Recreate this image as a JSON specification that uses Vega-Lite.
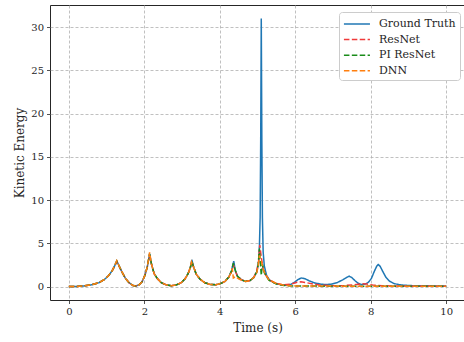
{
  "$schema": "https://vega.github.io/schema/vega-lite/v6.json",
  "width": 415,
  "height": 295,
  "autosize": {"type": "none"},
  "padding": {"left": 50, "top": 5, "right": 0, "bottom": 42},
  "datasets": {
    "gt": [
      {"t":0,"k":0},{"t":0.2,"k":0.02},{"t":0.4,"k":0.08},{"t":0.6,"k":0.2},{"t":0.8,"k":0.45},{"t":0.95,"k":0.85},{"t":1.05,"k":1.25},{"t":1.15,"k":1.85},{"t":1.22,"k":2.45},{"t":1.27,"k":2.95},{"t":1.32,"k":2.5},{"t":1.4,"k":1.75},{"t":1.5,"k":0.95},{"t":1.6,"k":0.42},{"t":1.7,"k":0.13},{"t":1.78,"k":0.08},{"t":1.86,"k":0.2},{"t":1.94,"k":0.55},{"t":2.02,"k":1.35},{"t":2.08,"k":2.3},{"t":2.14,"k":3.8},{"t":2.19,"k":2.6},{"t":2.26,"k":1.5},{"t":2.35,"k":0.9},{"t":2.45,"k":0.45},{"t":2.58,"k":0.2},{"t":2.72,"k":0.1},{"t":2.85,"k":0.2},{"t":2.98,"k":0.45},{"t":3.08,"k":0.9},{"t":3.16,"k":1.5},{"t":3.22,"k":2.2},{"t":3.26,"k":3.1},{"t":3.31,"k":2.2},{"t":3.38,"k":1.4},{"t":3.48,"k":0.85},{"t":3.6,"k":0.45},{"t":3.75,"k":0.25},{"t":3.9,"k":0.22},{"t":4.02,"k":0.35},{"t":4.14,"k":0.6},{"t":4.24,"k":1.1},{"t":4.31,"k":1.8},{"t":4.37,"k":2.95},{"t":4.41,"k":1.9},{"t":4.47,"k":1.2},{"t":4.57,"k":0.8},{"t":4.68,"k":0.6},{"t":4.8,"k":0.7},{"t":4.9,"k":1.05},{"t":4.98,"k":1.7},{"t":5.03,"k":2.8},{"t":5.05,"k":4.5},{"t":5.07,"k":8},{"t":5.085,"k":17},{"t":5.1,"k":31},{"t":5.115,"k":17},{"t":5.13,"k":8},{"t":5.15,"k":4},{"t":5.18,"k":2.4},{"t":5.24,"k":1.3},{"t":5.32,"k":0.75},{"t":5.45,"k":0.4},{"t":5.6,"k":0.22},{"t":5.75,"k":0.15},{"t":5.88,"k":0.25},{"t":5.98,"k":0.5},{"t":6.07,"k":0.8},{"t":6.16,"k":1.0},{"t":6.26,"k":0.9},{"t":6.38,"k":0.65},{"t":6.52,"k":0.42},{"t":6.68,"k":0.28},{"t":6.83,"k":0.23},{"t":6.98,"k":0.3},{"t":7.12,"k":0.48},{"t":7.26,"k":0.78},{"t":7.36,"k":1.05},{"t":7.43,"k":1.2},{"t":7.5,"k":1.05},{"t":7.58,"k":0.7},{"t":7.67,"k":0.38},{"t":7.76,"k":0.23},{"t":7.86,"k":0.3},{"t":7.94,"k":0.5},{"t":8.02,"k":0.95},{"t":8.1,"k":1.8},{"t":8.16,"k":2.35},{"t":8.2,"k":2.55},{"t":8.25,"k":2.35},{"t":8.32,"k":1.75},{"t":8.4,"k":1.1},{"t":8.5,"k":0.62},{"t":8.62,"k":0.35},{"t":8.75,"k":0.22},{"t":8.9,"k":0.15},{"t":9.1,"k":0.11},{"t":9.4,"k":0.09},{"t":9.7,"k":0.08},{"t":10,"k":0.07}
    ],
    "resnet": [
      {"t":0,"k":0},{"t":0.2,"k":0.02},{"t":0.4,"k":0.08},{"t":0.6,"k":0.2},{"t":0.8,"k":0.45},{"t":0.95,"k":0.85},{"t":1.05,"k":1.25},{"t":1.15,"k":1.85},{"t":1.22,"k":2.4},{"t":1.27,"k":2.9},{"t":1.32,"k":2.45},{"t":1.4,"k":1.75},{"t":1.5,"k":0.95},{"t":1.6,"k":0.42},{"t":1.7,"k":0.13},{"t":1.78,"k":0.08},{"t":1.86,"k":0.2},{"t":1.94,"k":0.55},{"t":2.02,"k":1.35},{"t":2.08,"k":2.3},{"t":2.14,"k":3.7},{"t":2.19,"k":2.6},{"t":2.26,"k":1.5},{"t":2.35,"k":0.9},{"t":2.45,"k":0.45},{"t":2.58,"k":0.2},{"t":2.72,"k":0.1},{"t":2.85,"k":0.2},{"t":2.98,"k":0.45},{"t":3.08,"k":0.9},{"t":3.16,"k":1.5},{"t":3.22,"k":2.2},{"t":3.26,"k":2.95},{"t":3.31,"k":2.2},{"t":3.38,"k":1.4},{"t":3.48,"k":0.85},{"t":3.6,"k":0.45},{"t":3.75,"k":0.25},{"t":3.9,"k":0.22},{"t":4.02,"k":0.35},{"t":4.14,"k":0.6},{"t":4.24,"k":1.1},{"t":4.31,"k":1.7},{"t":4.36,"k":2.5},{"t":4.41,"k":1.8},{"t":4.47,"k":1.2},{"t":4.57,"k":0.8},{"t":4.68,"k":0.6},{"t":4.8,"k":0.7},{"t":4.9,"k":1.05},{"t":4.98,"k":1.8},{"t":5.03,"k":3.0},{"t":5.06,"k":4.8},{"t":5.1,"k":3.4},{"t":5.15,"k":2.0},{"t":5.22,"k":1.3},{"t":5.32,"k":0.75},{"t":5.5,"k":0.35},{"t":5.7,"k":0.2},{"t":5.9,"k":0.3},{"t":6.05,"k":0.5},{"t":6.15,"k":0.55},{"t":6.3,"k":0.45},{"t":6.5,"k":0.28},{"t":6.7,"k":0.15},{"t":7.0,"k":0.1},{"t":7.3,"k":0.12},{"t":7.55,"k":0.2},{"t":7.75,"k":0.32},{"t":7.9,"k":0.3},{"t":8.05,"k":0.18},{"t":8.3,"k":0.1},{"t":8.7,"k":0.06},{"t":9.5,"k":0.04},{"t":10,"k":0.03}
    ],
    "pires": [
      {"t":0,"k":0},{"t":0.2,"k":0.02},{"t":0.4,"k":0.08},{"t":0.6,"k":0.2},{"t":0.8,"k":0.45},{"t":0.95,"k":0.85},{"t":1.05,"k":1.25},{"t":1.15,"k":1.85},{"t":1.22,"k":2.45},{"t":1.27,"k":2.95},{"t":1.32,"k":2.5},{"t":1.4,"k":1.75},{"t":1.5,"k":0.95},{"t":1.6,"k":0.42},{"t":1.7,"k":0.13},{"t":1.78,"k":0.08},{"t":1.86,"k":0.2},{"t":1.94,"k":0.55},{"t":2.02,"k":1.35},{"t":2.08,"k":2.3},{"t":2.14,"k":3.75},{"t":2.19,"k":2.6},{"t":2.26,"k":1.5},{"t":2.35,"k":0.9},{"t":2.45,"k":0.45},{"t":2.58,"k":0.2},{"t":2.72,"k":0.1},{"t":2.85,"k":0.2},{"t":2.98,"k":0.45},{"t":3.08,"k":0.9},{"t":3.16,"k":1.5},{"t":3.22,"k":2.2},{"t":3.26,"k":2.9},{"t":3.31,"k":2.2},{"t":3.38,"k":1.4},{"t":3.48,"k":0.85},{"t":3.6,"k":0.45},{"t":3.75,"k":0.25},{"t":3.9,"k":0.22},{"t":4.02,"k":0.35},{"t":4.14,"k":0.6},{"t":4.24,"k":1.1},{"t":4.31,"k":1.8},{"t":4.36,"k":2.7},{"t":4.41,"k":1.9},{"t":4.47,"k":1.2},{"t":4.57,"k":0.8},{"t":4.68,"k":0.6},{"t":4.8,"k":0.7},{"t":4.9,"k":1.05},{"t":4.98,"k":1.7},{"t":5.02,"k":2.6},{"t":5.05,"k":4.4},{"t":5.08,"k":2.5},{"t":5.1,"k":1.3},{"t":5.13,"k":2.6},{"t":5.18,"k":1.6},{"t":5.3,"k":0.75},{"t":5.5,"k":0.3},{"t":5.7,"k":0.12},{"t":6.0,"k":0.06},{"t":7,"k":0.05},{"t":8,"k":0.05},{"t":9,"k":0.05},{"t":10,"k":0.05}
    ],
    "dnn": [
      {"t":0,"k":0},{"t":0.2,"k":0.02},{"t":0.4,"k":0.08},{"t":0.6,"k":0.2},{"t":0.8,"k":0.45},{"t":0.95,"k":0.85},{"t":1.05,"k":1.25},{"t":1.15,"k":1.85},{"t":1.22,"k":2.5},{"t":1.27,"k":3.0},{"t":1.32,"k":2.5},{"t":1.4,"k":1.75},{"t":1.5,"k":0.95},{"t":1.6,"k":0.42},{"t":1.7,"k":0.13},{"t":1.78,"k":0.08},{"t":1.86,"k":0.2},{"t":1.94,"k":0.55},{"t":2.02,"k":1.35},{"t":2.08,"k":2.3},{"t":2.14,"k":3.95},{"t":2.19,"k":2.6},{"t":2.26,"k":1.5},{"t":2.35,"k":0.9},{"t":2.45,"k":0.45},{"t":2.58,"k":0.2},{"t":2.72,"k":0.1},{"t":2.85,"k":0.2},{"t":2.98,"k":0.45},{"t":3.08,"k":0.9},{"t":3.16,"k":1.5},{"t":3.22,"k":2.2},{"t":3.25,"k":2.85},{"t":3.31,"k":2.2},{"t":3.38,"k":1.4},{"t":3.48,"k":0.85},{"t":3.6,"k":0.45},{"t":3.75,"k":0.25},{"t":3.9,"k":0.22},{"t":4.02,"k":0.35},{"t":4.14,"k":0.6},{"t":4.24,"k":1.1},{"t":4.3,"k":1.6},{"t":4.33,"k":2.1},{"t":4.36,"k":1.0},{"t":4.42,"k":1.15},{"t":4.5,"k":0.9},{"t":4.6,"k":0.7},{"t":4.7,"k":0.6},{"t":4.8,"k":0.7},{"t":4.9,"k":1.05},{"t":4.98,"k":1.6},{"t":5.02,"k":2.4},{"t":5.05,"k":3.6},{"t":5.1,"k":3.0},{"t":5.15,"k":2.0},{"t":5.2,"k":1.5},{"t":5.3,"k":0.8},{"t":5.5,"k":0.35},{"t":5.7,"k":0.15},{"t":6.0,"k":0.08},{"t":6.5,"k":0.06},{"t":7.5,"k":0.05},{"t":8.5,"k":0.05},{"t":10,"k":0.05}
    ]
  },
  "config": {
    "font": "DejaVu Serif",
    "view": {"stroke": "#262626", "strokeWidth": 1},
    "axis": {
      "labelFont": "DejaVu Serif",
      "labelFontSize": 10,
      "labelColor": "#262626",
      "titleFont": "DejaVu Serif",
      "titleFontSize": 12,
      "titleFontWeight": "normal",
      "titleColor": "#262626",
      "domain": false,
      "tickColor": "#262626",
      "tickSize": 3.5,
      "tickWidth": 0.8,
      "labelPadding": 3,
      "grid": true,
      "gridColor": "#b0b0b0",
      "gridDash": [3, 2],
      "gridWidth": 0.8
    },
    "legend": {
      "orient": "none",
      "legendX": 289,
      "legendY": 7,
      "fillColor": "white",
      "strokeColor": "#cccccc",
      "cornerRadius": 3,
      "padding": 4,
      "labelFont": "DejaVu Serif",
      "labelFontSize": 11,
      "labelColor": "#262626",
      "symbolType": "M-1,0H2.68",
      "symbolSize": 200,
      "symbolStrokeWidth": 1.5,
      "labelOffset": 20,
      "rowPadding": 2.6
    }
  },
  "encoding": {
    "x": {"field": "t", "type": "quantitative", "scale": {"domain": [-0.5, 10.5], "nice": false, "zero": false}, "axis": {"values": [0, 2, 4, 6, 8, 10], "title": "Time (s)", "titlePadding": 6}},
    "y": {"field": "k", "type": "quantitative", "scale": {"domain": [-1.55, 32.55], "nice": false, "zero": false}, "axis": {"values": [0, 5, 10, 15, 20, 25, 30], "title": "Kinetic Energy", "titlePadding": 4}}
  },
  "layer": [
    {"data": {"name": "gt"}, "mark": {"type": "line", "strokeWidth": 1.5},
     "encoding": {
       "color": {"datum": "Ground Truth", "type": "nominal", "scale": {"domain": ["Ground Truth", "ResNet", "PI ResNet", "DNN"], "range": ["#1f77b4", "#f03a3a", "#1a8c1a", "#ff7f0e"]}, "legend": {"title": null}},
       "strokeDash": {"datum": "Ground Truth", "type": "nominal", "scale": {"domain": ["Ground Truth", "ResNet", "PI ResNet", "DNN"], "range": [[1, 0], [5.5, 2.4], [5.5, 2.4], [5.5, 2.4]]}, "legend": {"title": null}}
     }},
    {"data": {"name": "resnet"}, "mark": {"type": "line", "strokeWidth": 1.5},
     "encoding": {"color": {"datum": "ResNet", "type": "nominal"}, "strokeDash": {"datum": "ResNet", "type": "nominal"}}},
    {"data": {"name": "pires"}, "mark": {"type": "line", "strokeWidth": 1.5},
     "encoding": {"color": {"datum": "PI ResNet", "type": "nominal"}, "strokeDash": {"datum": "PI ResNet", "type": "nominal"}}},
    {"data": {"name": "dnn"}, "mark": {"type": "line", "strokeWidth": 1.5},
     "encoding": {"color": {"datum": "DNN", "type": "nominal"}, "strokeDash": {"datum": "DNN", "type": "nominal"}}}
  ]
}
